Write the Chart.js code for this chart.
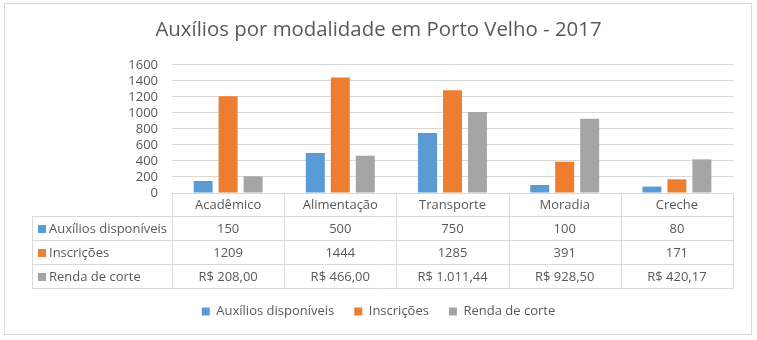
<!DOCTYPE html>
<html>
<head>
<meta charset="utf-8">
<script src="https://cdn.jsdelivr.net/npm/chart.js@4.4.0/dist/chart.umd.min.js"></script>
<style>
  html, body { margin: 0; padding: 0; background: #fff; }
  #wrap { width: 757px; height: 340px; position: relative; }
</style>
</head>
<body>
<div id="wrap"><canvas id="auxilios-chart"></canvas></div>
<script>
// Dados por modalidade
const modalidades = ['Acadêmico', 'Alimentação', 'Transporte', 'Moradia', 'Creche'];
const auxiliosDisponiveis = [150, 500, 750, 100, 80];
const inscricoes = [1209, 1444, 1285, 391, 171];
const rendaDeCorte = [208.00, 466.00, 1011.44, 928.50, 420.17];
const eixoY = [0, 200, 400, 600, 800, 1000, 1200, 1400, 1600];

const FONT = "'Open Sans', sans-serif";
const TEXT = '#595959';
const LINE = '#d9d9d9';

// R$ 1.011,44
function formatBRL(v) {
    const [int, dec] = v.toFixed(2).split('.');
    return 'R$ ' + int.replace(/\B(?=(\d{3})+(?!\d))/g, '.') + ',' + dec;
}

const series = [
    { label: 'Auxílios disponíveis', data: auxiliosDisponiveis, color: '#5B9BD5', fmt: v => String(v) },
    { label: 'Inscrições', data: inscricoes, color: '#ED7D31', fmt: v => String(v) },
    { label: 'Renda de corte', data: rendaDeCorte, color: '#A5A5A5', fmt: formatBRL }
];

// moldura externa
const frame = {
    id: 'frame',
    beforeDraw(chart) {
        const ctx = chart.ctx;
        ctx.save();
        ctx.strokeStyle = LINE;
        ctx.lineWidth = 1;
        ctx.strokeRect(4.5, 3.5, 747, 331);
        ctx.restore();
    }
};

// tabela de dados abaixo do eixo x
const dataTable = {
    id: 'dataTable',
    afterDraw(chart) {
        const { ctx, chartArea, scales: { x } } = chart;
        const top = chartArea.bottom;
        const headerH = 23, rowH = 24, tableLeft = 32;
        const colW = (chartArea.right - chartArea.left) / modalidades.length;
        const bodyTop = top + headerH;
        const bottom = bodyTop + rowH * series.length;
        const px = v => Math.round(v) + 0.5;

        ctx.save();
        ctx.strokeStyle = LINE;
        ctx.lineWidth = 1;
        ctx.beginPath();
        // divisórias das colunas
        for (let i = 0; i <= modalidades.length; i++) {
            const cx = px(chartArea.left + colW * i);
            ctx.moveTo(cx, top);
            ctx.lineTo(cx, bottom);
        }
        ctx.moveTo(px(tableLeft), bodyTop);
        ctx.lineTo(px(tableLeft), bottom);
        // linhas horizontais
        for (let r = 0; r <= series.length; r++) {
            const ry = px(bodyTop + rowH * r);
            ctx.moveTo(tableLeft, ry);
            ctx.lineTo(chartArea.right, ry);
        }
        ctx.stroke();

        ctx.fillStyle = TEXT;
        ctx.font = '13px ' + FONT;
        ctx.textAlign = 'center';
        ctx.textBaseline = 'middle';
        modalidades.forEach((m, i) => {
            ctx.fillText(m, x.getPixelForValue(i), top + headerH / 2 + 1);
        });
        series.forEach((s, r) => {
            const cy = bodyTop + rowH * r + rowH / 2 + 1;
            ctx.fillStyle = s.color;
            ctx.fillRect(tableLeft + 6, cy - 4, 8, 8);
            ctx.fillStyle = TEXT;
            ctx.textAlign = 'left';
            ctx.fillText(s.label, tableLeft + 17, cy);
            ctx.textAlign = 'center';
            s.data.forEach((v, i) => {
                ctx.fillText(s.fmt(v), x.getPixelForValue(i), cy);
            });
        });
        ctx.restore();
    }
};

const ctx = document.getElementById('auxilios-chart').getContext('2d');
new Chart(ctx, {
    type: 'bar',
    data: {
        labels: modalidades,
        datasets: series.map(s => ({
            label: s.label,
            data: s.data,
            backgroundColor: s.color,
            borderWidth: 0,
            categoryPercentage: 0.668,
            barPercentage: 0.76
        }))
    },
    options: {
        responsive: true,
        maintainAspectRatio: false,
        animation: false,
        layout: { padding: { left: 0, right: 0, top: 0, bottom: 12 } },
        plugins: {
            title: {
                display: true,
                text: 'Auxílios por modalidade em Porto Velho - 2017',
                color: TEXT,
                font: { family: FONT, size: 20.4, weight: 'normal' },
                padding: { top: 18, bottom: 22.5 }
            },
            legend: {
                position: 'bottom',
                labels: {
                    color: TEXT,
                    font: { family: FONT, size: 13 },
                    boxWidth: 8,
                    boxHeight: 8,
                    padding: 20
                }
            },
            tooltip: { enabled: false }
        },
        scales: {
            x: {
                grid: { display: false },
                border: { display: true, color: LINE },
                ticks: { display: false },
                afterFit: scale => { scale.height = 92; }
            },
            y: {
                min: eixoY[0],
                max: eixoY[eixoY.length - 1],
                ticks: {
                    stepSize: eixoY[1] - eixoY[0],
                    autoSkip: false,
                    callback: v => String(v),
                    color: TEXT,
                    font: { family: FONT, size: 13 },
                    padding: 14
                },
                grid: { color: LINE, drawTicks: false },
                border: { display: false },
                afterFit: scale => { scale.width = 172; }
            },
            // margem à direita da área do gráfico
            margem: {
                position: 'right',
                grid: { display: false },
                border: { display: false },
                ticks: { display: false },
                afterFit: scale => { scale.width = 24; }
            }
        }
    },
    plugins: [frame, dataTable]
});
</script>
</body>
</html>
